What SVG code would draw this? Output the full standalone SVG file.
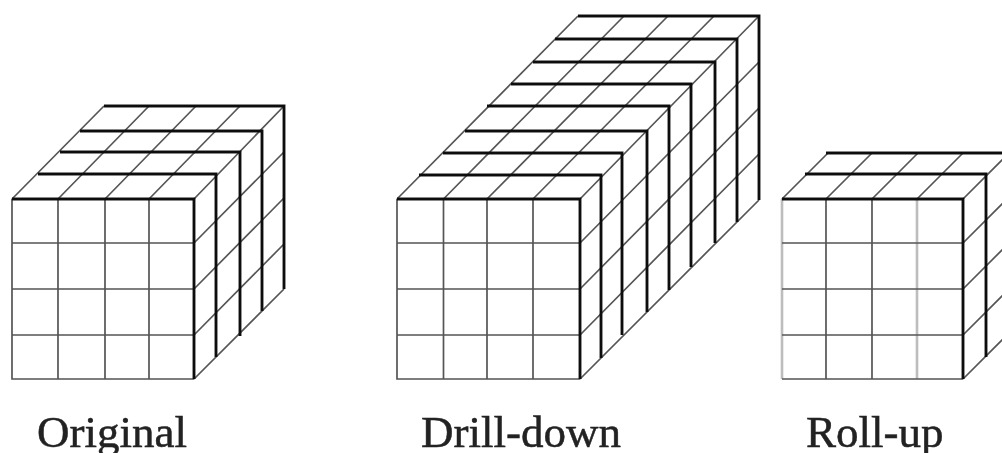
<svg xmlns="http://www.w3.org/2000/svg" width="1002" height="453" viewBox="0 0 1002 453">
<defs><filter id="soft" x="-2%" y="-2%" width="104%" height="104%"><feGaussianBlur stdDeviation="0.6"/></filter></defs>
<style>
.t{fill:none;stroke:#555;stroke-width:1.7}
.k{fill:none;stroke:#111;stroke-width:2.9}
.l{fill:none;stroke:#bdbdbd;stroke-width:2.6}
text{font-family:"Liberation Serif","Times New Roman",serif;font-size:45px;fill:#222;stroke:#222;stroke-width:.5}
</style>
<rect width="1002" height="453" fill="#fff"/>
<g id="original" filter="url(#soft)">
<path class="t" d="M12 199V379H194M58 199V379M105 199V379M149 199V379M12 243H194M12 289H194M12 335H194"/>
<path class="t" d="M12 199L104 106M58 199L149 106M105 199L196 106M149 199L240 106M194 199L284 106"/>
<path class="t" d="M194 243L284 152M194 289L284 198M194 335L284 244M194 379L284 289"/>
<path class="k" d="M12 199H194V379M38 174H216V357M60 152H240V336M80 131H262V311M104 106H284V289"/>
</g>
<g id="drill-down" filter="url(#soft)">
<path class="t" d="M397 199V379H580M443.500 199V379M487 199V379M533 199V379M397 243H580M397 289H580M397 335H580"/>
<path class="t" d="M397 199L578 16M443.500 199L624 16M487 199L668 16M533 199L714 16M580 199L759 16"/>
<path class="t" d="M580 243L759 62M580 289L759 108M580 335L759 154M580 379L759 200"/>
<path class="k" d="M397 199H580V379M419 175H601V358M443 153H622V335M465 131H647V312M487 106H669V290M511 84H691V267M533 62H715V243M555 39H737V222M578 16H759V200"/>
</g>
<g id="roll-up" filter="url(#soft)">
<path class="l" d="M782 199V379M917 199V379"/>
<path class="t" d="M782 379H963M826 199V379M872 199V379M782 243H963M782 289H963M782 335H963"/>
<path class="t" d="M782 199L828 153M826 199L872 153M872 199L918 153M917 199L963 153M963 199L1009 153"/>
<path class="t" d="M963 243L1009 197M963 289L1009 243M963 335L1009 289M963 379L1009 333"/>
<path class="k" d="M782 199H963V379M805 174H986V357M826 153H1002"/>
</g>
<g id="labels" filter="url(#soft)">
<text x="37" y="447">Original</text>
<text x="421" y="447">Drill-down</text>
<text x="806" y="447">Roll-up</text>
</g>
</svg>
